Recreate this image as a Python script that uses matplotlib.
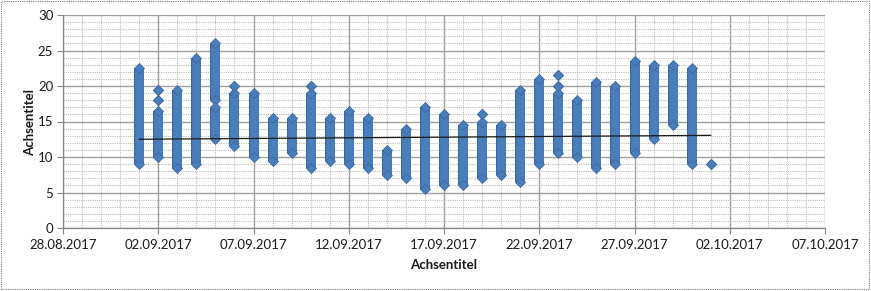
# -*- coding: utf-8 -*-
"""
Scatter of daily readings (Excel style) with linear trendline
"""

import datetime as dt
import matplotlib
matplotlib.use('Agg')
import matplotlib.pyplot as plt
import matplotlib.dates as mdates
from matplotlib.patches import Rectangle

# Each entry is one vertical run of stacked points: day, lowest value, highest value
seg_day = ['2017-09-01', '2017-09-02', '2017-09-02', '2017-09-02',
           '2017-09-03', '2017-09-04', '2017-09-05', '2017-09-05', '2017-09-06',
           '2017-09-06', '2017-09-07', '2017-09-08', '2017-09-09', '2017-09-10',
           '2017-09-10', '2017-09-11', '2017-09-12', '2017-09-13', '2017-09-14',
           '2017-09-15', '2017-09-16', '2017-09-17', '2017-09-18', '2017-09-19',
           '2017-09-19', '2017-09-20', '2017-09-21', '2017-09-22', '2017-09-23',
           '2017-09-23', '2017-09-23', '2017-09-24', '2017-09-25', '2017-09-26',
           '2017-09-27', '2017-09-28', '2017-09-29', '2017-09-30', '2017-10-01']
seg_low = [9, 10, 18, 19.5,
           8.5, 9, 12.5, 18, 11.5,
           20, 10, 9.5, 10.5, 8.5,
           20, 9.5, 9, 8.5, 7.5,
           7, 5.5, 6, 6, 7,
           16, 7.5, 6.5, 9, 10.5,
           20, 21.5, 10, 8.5, 9,
           10.5, 12.5, 14.5, 9, 9]
seg_high = [22.5, 16.5, 18, 19.5,
            19.5, 24, 17, 26, 19,
            20, 19, 15.5, 15.5, 19,
            20, 15.5, 16.5, 15.5, 11,
            14, 17, 16, 14.5, 15,
            16, 14.5, 19.5, 21, 19,
            20, 21.5, 18, 20.5, 20,
            23.5, 23, 23, 22.5, 9]

# Linear trendline as drawn by the spreadsheet (start / end)
trend_days = ['2017-09-01', '2017-10-01']
trend_vals = [12.5, 13.05]

# Axis ticks
x_ticks = ['2017-08-28', '2017-09-02', '2017-09-07', '2017-09-12', '2017-09-17',
           '2017-09-22', '2017-09-27', '2017-10-02', '2017-10-07']
y_ticks = [0, 5, 10, 15, 20, 25, 30]


def to_date(s):
    return dt.datetime.strptime(s, '%Y-%m-%d')


plt.rcParams['font.family'] = ['Lato', 'DejaVu Sans']

fig = plt.figure(figsize=(8.71, 2.91), dpi=100)
ax = fig.add_axes([63 / 871, 1 - 228 / 291, 762 / 871, 213 / 291])

blue = '#4A7EBB'
edge = '#3A68A3'

days = [to_date(d) for d in seg_day]
# columns of stacked diamonds: a thick bar (with darker rim) plus diamond ends
ax.vlines(days, seg_low, seg_high, colors=edge, linewidth=7.2, zorder=3)
ax.vlines(days, seg_low, seg_high, colors=blue, linewidth=6.2, zorder=3)
ax.plot(days, seg_low, 'D', ms=5.6, color=blue, mec=edge, mew=0.6, zorder=4)
ax.plot(days, seg_high, 'D', ms=5.6, color=blue, mec=edge, mew=0.6, zorder=4)

# trendline on top
ax.plot([to_date(d) for d in trend_days], trend_vals, color='#1a1a1a', lw=0.9, zorder=5)

# limits and ticks
ax.set_xlim(to_date(x_ticks[0]), to_date(x_ticks[-1]))
ax.set_ylim(0, 30)
ax.set_xticks([to_date(d) for d in x_ticks])
ax.xaxis.set_major_formatter(mdates.DateFormatter('%d.%m.%Y'))
ax.xaxis.set_minor_locator(mdates.DayLocator())
ax.set_yticks(y_ticks)
ax.set_yticks(range(0, 31), minor=True)

# gridlines: dotted minor, solid major
ax.grid(which='minor', color='#BDBDBD', linestyle=(0, (1, 1)), linewidth=0.8, zorder=0)
ax.grid(which='major', color='#A0A0A0', linestyle='-', linewidth=1.0, zorder=1)
ax.set_axisbelow(True)

for side in ['top', 'right']:
    ax.spines[side].set_visible(False)
for side in ['left', 'bottom']:
    ax.spines[side].set_color('#868686')
    ax.spines[side].set_linewidth(0.9)

ax.tick_params(axis='both', which='major', length=4, color='#868686',
               labelsize=9.5, labelcolor='#1a1a1a', pad=3)
ax.tick_params(axis='both', which='minor', length=0)
ax.tick_params(axis='x', pad=4)

# axis titles
fig.text(444 / 871, 1 - 265 / 291, 'Achsentitel', ha='center', va='center',
         fontsize=9.5, fontweight='bold', color='#1a1a1a')
fig.text(30 / 871, 1 - 122 / 291, 'Achsentitel', ha='center', va='center',
         rotation=90, fontsize=9.5, fontweight='bold', color='#1a1a1a')

# dotted chart border
fig.patches.append(Rectangle((1 / 871, 2 / 291), 868 / 871, 288 / 291,
                             transform=fig.transFigure, fill=False,
                             edgecolor='#7F7F7F', linestyle=(0, (1, 1)), linewidth=0.8))

plt.savefig('out.png', dpi=100)
